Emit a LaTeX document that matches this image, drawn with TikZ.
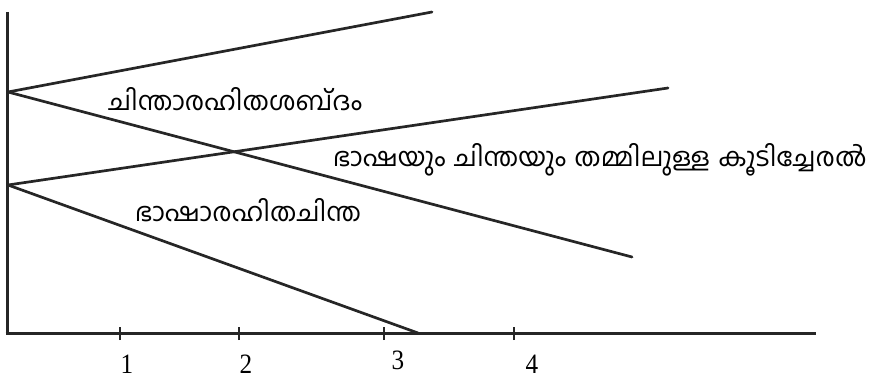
\documentclass[tikz,border=0pt]{standalone}
\usepackage{fontspec}
\setmainfont{Liberation Serif}
\newfontfamily\mal[Script=Malayalam]{Hind Kochi}
\begin{document}
\begin{tikzpicture}[x=1pt,y=-1pt,
  axisline/.style={line width=3pt,draw=black!85},
  ray/.style={line width=2.7pt,draw=black!85,line cap=round},
  tickmark/.style={line width=2pt,draw=black!85},
  ticklabel/.style={font=\fontsize{28}{28}\selectfont,inner sep=0pt,xscale=0.9},
  mallabel/.style={font=\mal\fontsize{26}{28}\selectfont,inner sep=0pt}]
\useasboundingbox (0,0) rectangle (869,379);
% axes
\coordinate (ytop) at (7.5,12);
\coordinate (orig) at (7.5,333);
\coordinate (xstart) at (5.5,333);
\coordinate (xend) at (816,333);
\draw[axisline] (ytop) -- (orig);
\draw[axisline] (xstart) -- (xend);
% ticks
\foreach \n/\x in {t1/120,t2/239,t3/384,t4/514}{
  \coordinate (\n) at (\x,333);
  \draw[tickmark] ([yshift=-7pt]\n) -- ([yshift=6pt]\n);
}
\node[ticklabel] (l1) at (127,364) {1};
\node[ticklabel] (l2) at (246,364) {2};
\node[ticklabel] (l3) at (398,360) {3};
\node[ticklabel] (l4) at (532,364) {4};
% rays
\coordinate (o1) at (8,92);
\coordinate (o2) at (8,185);
\coordinate (a) at (432,12);
\coordinate (b) at (632,257);
\coordinate (c) at (668,88);
\coordinate (d) at (418,333);
\draw[ray] (o1) -- (a);
\draw[ray] (o1) -- (b);
\draw[ray] (o2) -- (c);
\draw[ray] (o2) -- (d);
% labels
\node[mallabel] (m1) at (235,99) {ചിന്താരഹിതശബ്^^^^200cദം};
\node[mallabel,anchor=east] (m2) at (867,160) {\hbox to 534pt{ഭാഷയും\hfill ചിന്തയും\hfill തമ്മിലുള്ള\hfill കൂടിച്ചേരൽ}};
\node[mallabel] (m3) at (248,210) {ഭാഷാരഹിതചിന്ത};
\end{tikzpicture}
\end{document}
